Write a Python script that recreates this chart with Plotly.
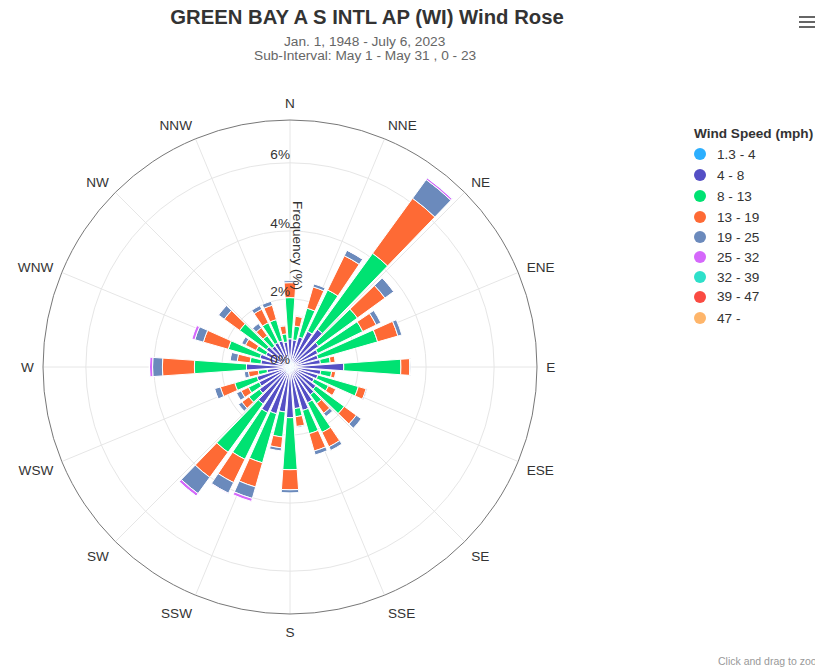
import plotly.graph_objects as go

W, H = 815, 668

directions = [0, 10, 20, 30, 40, 50, 60, 70, 80, 90, 100, 110, 120, 130, 140, 150, 160, 170,
              180, 190, 200, 210, 220, 230, 240, 250, 260, 270, 280, 290, 300, 310, 320, 330, 340, 350]

compass_vals = [0, 22.5, 45, 67.5, 90, 112.5, 135, 157.5, 180, 202.5, 225, 247.5, 270, 292.5, 315, 337.5]
compass_text = ["N", "NNE", "NE", "ENE", "E", "ESE", "SE", "SSE", "S", "SSW", "SW", "WSW", "W", "WNW", "NW", "NNW"]

speed_bins = ["1.3 - 4", "4 - 8", "8 - 13", "13 - 19", "19 - 25", "25 - 32", "32 - 39", "39 - 47", "47 -"]
colors = ["#2caffe", "#544fc5", "#00e272", "#fe6a35", "#6b8abc", "#d568fb", "#2ee0ca", "#fa4b42", "#feb56a"]

# frequency (%) per direction, one list per speed bin
freq_1_4 = [0.18, 0.15, 0.16, 0.17, 0.19, 0.16, 0.15, 0.15, 0.14, 0.20, 0.15, 0.14, 0.14, 0.15, 0.16, 0.17, 0.18, 0.17,
            0.20, 0.18, 0.19, 0.20, 0.19, 0.17, 0.16, 0.16, 0.15, 0.19, 0.15, 0.16, 0.14, 0.15, 0.14, 0.15, 0.15, 0.15]
freq_4_8 = [0.65, 0.65, 0.76, 1.00, 1.18, 0.88, 0.76, 0.71, 0.76, 1.38, 0.76, 0.71, 0.65, 0.79, 0.85, 1.00, 1.15, 1.06,
            1.29, 1.15, 1.24, 1.29, 1.15, 0.94, 0.85, 0.85, 0.53, 1.09, 0.71, 0.76, 0.65, 0.71, 0.62, 0.65, 0.65, 0.59]
freq_8_13 = [1.21, 0.41, 0.88, 1.35, 2.76, 1.41, 1.47, 1.82, 0.29, 1.68, 0.32, 1.24, 0.47, 1.03, 0.32, 0.97, 0.71, 0.24,
             1.53, 0.74, 1.50, 1.53, 1.76, 0.38, 0.35, 0.68, 0.26, 1.53, 0.32, 0.97, 0.32, 0.97, 0.38, 0.65, 0.65, 0.24]
freq_13_19 = [0.44, 0.29, 0.65, 1.12, 2.00, 1.00, 0.44, 0.62, 0.15, 0.26, 0.12, 0.24, 0.24, 0.44, 0.35, 0.47, 0.53, 0.29,
              0.59, 0.32, 0.74, 0.76, 0.91, 0.26, 0.24, 0.44, 0.29, 0.94, 0.38, 0.76, 0.35, 0.56, 0.29, 0.44, 0.44, 0.24]
freq_19_25 = [0.06, 0.02, 0.09, 0.18, 0.68, 0.32, 0.15, 0.12, 0.01, 0.03, 0.01, 0.03, 0.01, 0.18, 0.12, 0.12, 0.12, 0.03,
              0.09, 0.09, 0.35, 0.35, 0.59, 0.12, 0.15, 0.18, 0.12, 0.29, 0.21, 0.26, 0.12, 0.21, 0.15, 0.12, 0.12, 0.02]
freq_25_32 = [0.00, 0.00, 0.00, 0.01, 0.06, 0.01, 0.00, 0.00, 0.00, 0.00, 0.00, 0.00, 0.00, 0.00, 0.00, 0.00, 0.00, 0.00,
              0.00, 0.00, 0.09, 0.02, 0.09, 0.00, 0.00, 0.01, 0.00, 0.09, 0.01, 0.09, 0.00, 0.01, 0.00, 0.00, 0.00, 0.00]
freq_32_39 = [0.00, 0.00, 0.00, 0.00, 0.01, 0.00, 0.00, 0.00, 0.00, 0.00, 0.00, 0.00, 0.00, 0.00, 0.00, 0.00, 0.00, 0.00,
              0.00, 0.00, 0.00, 0.00, 0.01, 0.00, 0.00, 0.00, 0.00, 0.01, 0.00, 0.00, 0.00, 0.00, 0.00, 0.00, 0.00, 0.00]
freq_39_47 = [0.00, 0.00, 0.00, 0.00, 0.00, 0.00, 0.00, 0.00, 0.00, 0.00, 0.00, 0.00, 0.00, 0.00, 0.00, 0.00, 0.00, 0.00,
              0.00, 0.00, 0.00, 0.00, 0.00, 0.00, 0.00, 0.00, 0.00, 0.00, 0.00, 0.00, 0.00, 0.00, 0.00, 0.00, 0.00, 0.00]
freq_47_up = [0.00, 0.00, 0.00, 0.00, 0.00, 0.00, 0.00, 0.00, 0.00, 0.00, 0.00, 0.00, 0.00, 0.00, 0.00, 0.00, 0.00, 0.00,
              0.00, 0.00, 0.00, 0.00, 0.00, 0.00, 0.00, 0.00, 0.00, 0.00, 0.00, 0.00, 0.00, 0.00, 0.00, 0.00, 0.00, 0.00]

series = [freq_1_4, freq_4_8, freq_8_13, freq_13_19, freq_19_25, freq_25_32, freq_32_39, freq_39_47, freq_47_up]

radial_ticks = [0, 2, 4, 6]
radial_labels = ["0%", "2%", "4%", "6%"]
radial_max = 7.26

FONT = "Arial, Liberation Sans, sans-serif"
FS = 13.6

fig = go.Figure()

for name, vals, col in zip(speed_bins, series, colors):
    fig.add_trace(go.Barpolar(
        r=vals, theta=directions, name=name, showlegend=False,
        marker=dict(color=col, line=dict(color="white", width=1)),
    ))

# radial tick labels, placed with the polar scale
fig.add_trace(go.Scatterpolar(
    r=radial_ticks, theta=[0] * len(radial_ticks), mode="text", text=radial_labels,
    textposition="top left", textfont=dict(family=FONT, size=FS, color="#333333"),
    showlegend=False, hoverinfo="skip",
))


def px(x):
    return x / W


def py(y):
    return 1 - y / H


fig.update_layout(
    width=W, height=H,
    margin=dict(l=0, r=0, t=0, b=0),
    paper_bgcolor="white",
    font=dict(family=FONT, size=FS, color="#333333"),
    polar=dict(
        domain=dict(x=[px(43), px(537)], y=[py(614), py(120)]),
        bgcolor="white",
        bargap=0.2,
        angularaxis=dict(
            rotation=90, direction="clockwise",
            tickmode="array", tickvals=compass_vals, ticktext=compass_text,
            ticks="outside", ticklen=6, tickcolor="rgba(0,0,0,0)",
            tickfont=dict(family=FONT, size=FS, color="#333333"),
            showline=True, linecolor="#777777", linewidth=1,
            gridcolor="#e6e6e6", gridwidth=1,
        ),
        radialaxis=dict(
            range=[0, radial_max], angle=90,
            tickmode="array", tickvals=[2, 4, 6],
            showticklabels=False, ticks="", showline=False,
            gridcolor="#e6e6e6", gridwidth=1,
        ),
    ),
    title=dict(
        text="<b>GREEN BAY A S INTL AP (WI) Wind Rose</b>",
        x=px(367), xanchor="center", y=py(17), yanchor="middle",
        font=dict(family=FONT, size=20.3, color="#333333"),
    ),
)

annotations = [
    dict(text="Jan. 1, 1948 - July 6, 2023", x=px(365), y=py(41), font=dict(size=13.7, color="#666666")),
    dict(text="Sub-Interval: May 1 - May 31 , 0 - 23", x=px(365), y=py(55), font=dict(size=13.7, color="#666666")),
    dict(text="Frequency (%)", x=px(297), y=py(245), textangle=90, font=dict(size=FS, color="#333333")),
    dict(text="<b>Wind Speed (mph)</b>", x=px(692), y=py(133), xanchor="left", font=dict(size=FS, color="#333333")),
    dict(text="Click and drag to zoom", x=px(716), y=py(661), xanchor="left", font=dict(size=10.5, color="#999999")),
]

shapes = []
legend_rows = [154, 175, 196, 217, 237, 257, 277, 297, 318]
for name, col, yy in zip(speed_bins, colors, legend_rows):
    shapes.append(dict(type="circle", xref="paper", yref="paper", xsizemode="pixel", ysizemode="pixel",
                       xanchor=px(700), yanchor=py(yy), x0=-6, x1=6, y0=-6, y1=6,
                       fillcolor=col, line=dict(width=0)))
    annotations.append(dict(text=name, x=px(715), y=py(yy), xanchor="left", font=dict(size=FS, color="#333333")))

# export menu icon
for yy in [17, 22, 27]:
    shapes.append(dict(type="line", xref="paper", yref="paper", x0=px(799), x1=px(815), y0=py(yy), y1=py(yy),
                       line=dict(color="#666666", width=2)))

for a in annotations:
    a.setdefault("xref", "paper")
    a.setdefault("yref", "paper")
    a.setdefault("showarrow", False)
    a.setdefault("xanchor", "center")
    a.setdefault("yanchor", "middle")
    a["font"].setdefault("family", FONT)

fig.update_layout(annotations=annotations, shapes=shapes)

# page body has a default margin; drop it so the figure sits at the window corner
fig.write_html("out.html", config={"displayModeBar": False},
               post_script="document.body.style.margin='0px';")
